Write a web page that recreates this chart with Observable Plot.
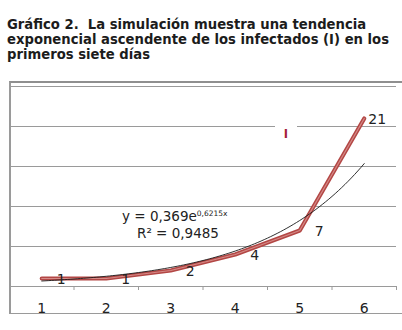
<!DOCTYPE html>
<html>
<head>
<meta charset="utf-8">
<script src="https://cdn.jsdelivr.net/npm/d3@7"></script>
<script src="https://cdn.jsdelivr.net/npm/@observablehq/plot@0.6"></script>
<style>
  html, body { margin: 0; padding: 0; background: #fff; }
  #page { position: relative; width: 402px; height: 330px; overflow: hidden; background: #fff; }
  #title { position: absolute; left: 7px; top: 17px; font: bold 13.2px "DejaVu Sans", Verdana, sans-serif; line-height: 15px; color: #1c1c1c; white-space: pre; }
  #frame { position: absolute; left: 9px; top: 81px; width: 400px; height: 233px; border-top: 2px solid #8f8f8f; border-left: 2px solid #9a9a9a; border-bottom: 1.5px solid #9a9a9a; box-sizing: border-box; }
  #chart { position: absolute; left: 0; top: 70px; }
  #legend { position: absolute; left: 275px; top: 126px; width: 22px; height: 16px; background: #fff; text-align: center; font: bold 11.5px "DejaVu Sans", sans-serif; line-height: 16px; color: #a51f3d; }
  .eq { position: absolute; font: 13.5px "DejaVu Sans", sans-serif; line-height: 16px; color: #222; white-space: nowrap; }
  .eq sup { font-size: 7.5px; vertical-align: 5px; line-height: 0; }
</style>
</head>
<body>
<div id="page">
  <div id="title"></div>
  <div id="frame"></div>
  <div id="chart"></div>
  <div id="legend"></div>
  <div class="eq" id="eq1" style="left:122px; top:208px;"></div>
  <div class="eq" id="eq2" style="left:137px; top:225px;"></div>
</div>
<script>
// ---- data ----
const titleLines = [
  "Gráfico 2.  La simulación muestra una tendencia",
  "exponencial ascendente de los infectados (I) en los",
  "primeros siete días"
];
const days = [1, 2, 3, 4, 5, 6];
const infected = [1, 1, 2, 4, 7, 21];
const seriesName = "I";
const yGridValues = [0, 5, 10, 15, 20, 25];
const trendEquation = ["y = 0,369e", "0,6215x"];
const trendR2 = "R² = 0,9485";

// ---- text ----
document.getElementById("title").textContent = titleLines.join("\n");
document.getElementById("legend").textContent = seriesName;
document.getElementById("eq1").innerHTML = trendEquation[0] + "<sup>" + trendEquation[1] + "</sup>";
document.getElementById("eq2").textContent = trendR2;

// ---- table & exponential fit (least squares on ln y) ----
const data = days.map((d, i) => ({day: d, value: infected[i]}));
const lx = days, ly = infected.map(v => Math.log(v));
const mx = d3.mean(lx), my = d3.mean(ly);
const b = d3.sum(lx.map((x, i) => (x - mx) * (ly[i] - my))) / d3.sum(lx.map(x => (x - mx) ** 2));
const a = Math.exp(my - b * mx);
const trend = d3.range(days[0], days[days.length - 1] + 1e-9, 0.05).map(x => ({day: x, value: a * Math.exp(b * x)}));
const boundaries = days.map(d => d + 0.5);

const chart = Plot.plot({
  width: 402,
  height: 260,
  marginTop: 16,
  marginBottom: 44,
  marginLeft: 9,
  marginRight: 6,
  style: {fontFamily: "DejaVu Sans, sans-serif", background: "transparent", overflow: "visible"},
  x: {type: "linear", domain: [days[0] - 0.5, days[days.length - 1] + 0.5], axis: null, label: null},
  y: {domain: [0, 25], axis: null},
  marks: [
    Plot.ruleY(yGridValues, {stroke: "#9a9a9a", strokeWidth: 1}),
    Plot.ruleX(boundaries, {x: d => d, y1: 0, y2: -0.5, stroke: "#9a9a9a"}),
    Plot.axisX(days, {tickSize: 0, tickPadding: 17, fontSize: 14, fill: "#222", label: null, tickFormat: d => String(d)}),
    Plot.line(data, {x: "day", y: "value", stroke: "#b34745", strokeWidth: 4.2}),
    Plot.line(data, {x: "day", y: "value", stroke: "#d58a87", strokeWidth: 1.2}),
    Plot.line(trend, {x: "day", y: "value", stroke: "#1a1a1a", strokeWidth: 0.9}),
    Plot.text(data.slice(0, -1), {x: "day", y: "value", text: d => String(d.value), textAnchor: "start", dx: 15, dy: 1, fontSize: 14, fill: "#222"}),
    Plot.text(data.slice(-1), {x: "day", y: "value", text: d => String(d.value), textAnchor: "start", dx: 4, dy: 1, fontSize: 14, fill: "#222"})
  ]
});
document.getElementById("chart").appendChild(chart);
</script>
</body>
</html>
